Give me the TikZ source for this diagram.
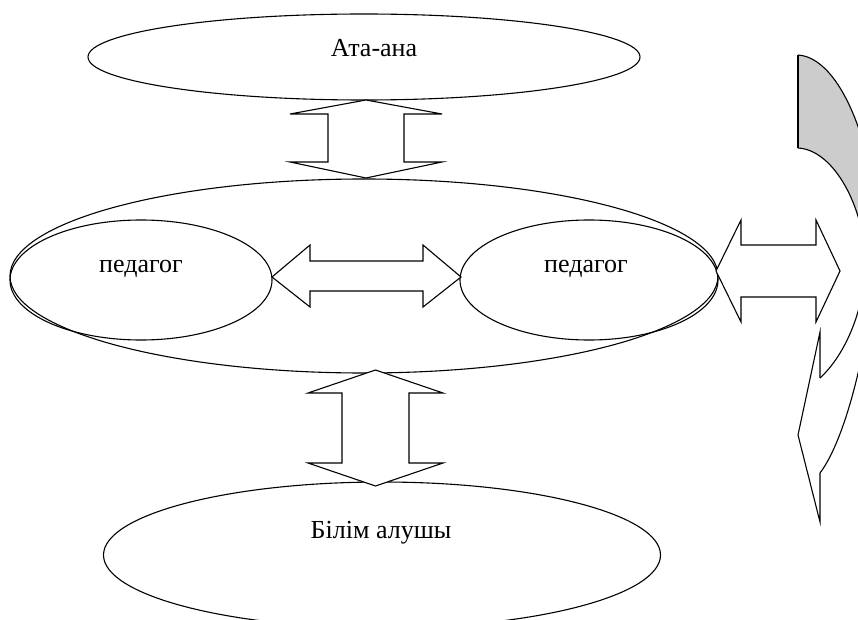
\documentclass[tikz,border=0pt]{standalone}
\usepackage{fontspec}
\setmainfont{Liberation Serif}
\usetikzlibrary{shapes.geometric}
\tikzset{
  oval/.style={ellipse,draw,line width=1.1pt,inner sep=0pt},
  lbl/.style={inner sep=0pt,anchor=base,font=\fontsize{26}{30}\selectfont},
  blockarrow/.style={draw,fill=white,line width=1.1pt,line join=miter},
  outline/.style={draw,line width=1.1pt}
}
\begin{document}
\begin{tikzpicture}[x=1pt,y=-1pt]
\useasboundingbox (0,0) rectangle (858,620);
\clip (0,0) rectangle (858,620);
% ellipses
\node[oval,minimum width=552pt,minimum height=86pt] (parent) at (364,57) {};
\node[lbl] (tparent) at (374,57) {Ата-ана};
\node[oval,minimum width=708pt,minimum height=194pt] (big) at (364,276) {};
\node[oval,minimum width=262pt,minimum height=120pt] (pedL) at (141,280) {};
\node[oval,minimum width=258pt,minimum height=120pt] (pedR) at (589,280) {};
\node[lbl] (tpedL) at (141,272) {педагог};
\node[lbl] (tpedR) at (586,272) {педагог};
\node[oval,minimum width=557pt,minimum height=146pt] (learner) at (382,555) {};
\node[lbl] (tlearner) at (381,538) {Білім алушы};
% top double arrow
\path[blockarrow] (366,100) -- (442,114) -- (404,114) -- (404,162) -- (442,162) -- (366,178)
  -- (290,162) -- (328,162) -- (328,114) -- (290,114) -- cycle;
% middle horizontal double arrow
\path[blockarrow] (272,277) -- (310,245) -- (310,261) -- (423,261) -- (423,245) -- (461,277)
  -- (423,307) -- (423,291) -- (310,291) -- (310,307) -- cycle;
% bottom double arrow
\path[blockarrow] (375.5,370) -- (443,393) -- (409,393) -- (409,463) -- (443,463) -- (375.5,486)
  -- (308,463) -- (342,463) -- (342,393) -- (308,393) -- cycle;
% right double arrow
\path[blockarrow] (716,271) -- (741,220) -- (741,245) -- (816,245) -- (816,220) -- (840,271)
  -- (816,322) -- (816,297) -- (741,297) -- (741,322) -- cycle;
% curved arrow
\coordinate (oTop) at (798,55);
\coordinate (iTop) at (798,148);
\coordinate (oMid) at (875,265);
\coordinate (iMid) at (865,262);
\coordinate (oEnd) at (820,473);
\coordinate (iEnd) at (820,378);
\fill[gray!40] (oTop) -- (iTop) .. controls (835,150) and (865,210) .. (iMid) -- (oMid)
  .. controls (885,180) and (848,58) .. (oTop) -- cycle;
\path[outline] (oTop) .. controls (848,58) and (885,180) .. (oMid)
  .. controls (868,350) and (845,440) .. (oEnd);
\path[outline] (iTop) .. controls (835,150) and (865,210) .. (iMid)
  .. controls (865,310) and (845,355) .. (iEnd);
\path[outline] (oTop) -- (iTop);
\path[outline,line join=miter] (iEnd) -- (820,332) -- (798,435) -- (820,522) -- (oEnd);
\end{tikzpicture}
\end{document}
